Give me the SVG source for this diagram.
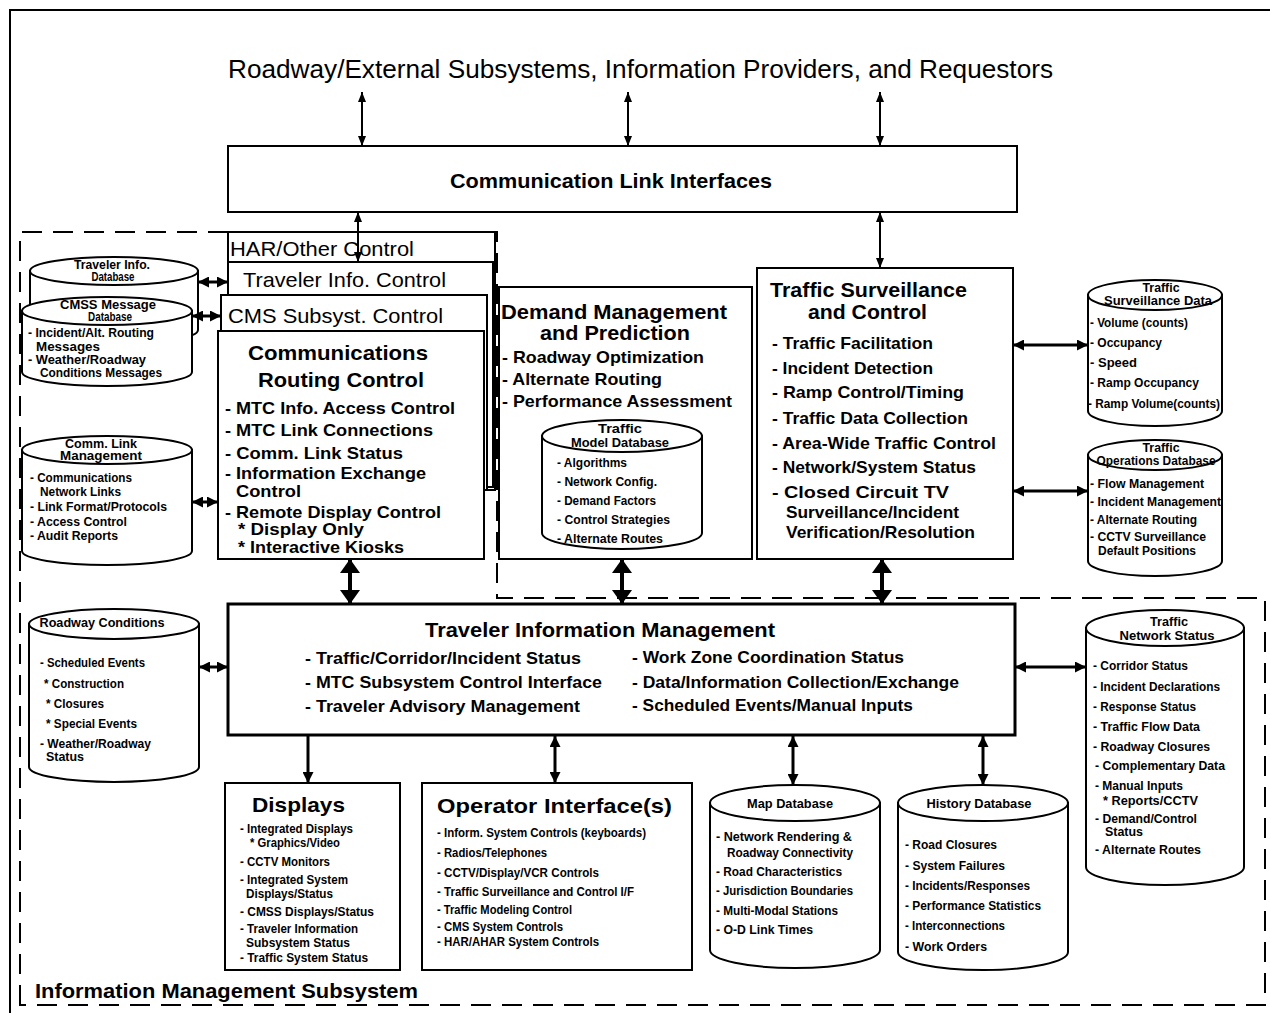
<svg xmlns="http://www.w3.org/2000/svg" width="1270" height="1013" viewBox="0 0 1270 1013">
  <defs>
    <style>
      text { font-family: "Liberation Sans", Arial, Helvetica, sans-serif; fill: #000; }
      .box { fill: #fff; stroke: #000; stroke-width: 2; }
      .tim { fill: #fff; stroke: #000; stroke-width: 3; }
      .cyl { fill: #fff; stroke: #000; stroke-width: 2; }
      .frame { fill: none; stroke: #000; stroke-width: 2; }
      .region { fill: none; stroke: #000; stroke-width: 2; stroke-dasharray: 20 11; }
      .big { font-size: 25px; }
      .hdr { font-size: 21px; font-weight: bold; }
      .plain { font-size: 21px; }
      .item { font-size: 17px; font-weight: bold; }
      .small { font-size: 12px; font-weight: bold; }
      .stitle { font-size: 12px; font-weight: bold; text-anchor: middle; }
      .thin { stroke: #000; stroke-width: 2; fill: none; marker-start: url(#hs); marker-end: url(#hs); }
      .side { stroke: #000; stroke-width: 3; fill: none; marker-start: url(#hm); marker-end: url(#hm); }
      .thick { stroke: #000; stroke-width: 4; fill: none; marker-start: url(#hl); marker-end: url(#hl); }
      .down { stroke: #000; stroke-width: 3; fill: none; marker-end: url(#hm); }
      .vdbl { stroke: #000; stroke-width: 3; fill: none; marker-start: url(#hm); marker-end: url(#hm); }
    </style>
    <marker id="hs" viewBox="0 0 10 8" refX="10" refY="4" markerWidth="10" markerHeight="8" markerUnits="userSpaceOnUse" orient="auto-start-reverse">
      <path d="M0,0 L10,4 L0,8 z" fill="#000"/>
    </marker>
    <marker id="hm" viewBox="0 0 11 11" refX="11" refY="5.5" markerWidth="11" markerHeight="11" markerUnits="userSpaceOnUse" orient="auto-start-reverse">
      <path d="M0,0 L11,5.5 L0,11 z" fill="#000"/>
    </marker>
    <marker id="hl" viewBox="0 0 14 20" refX="14" refY="10" markerWidth="14" markerHeight="20" markerUnits="userSpaceOnUse" orient="auto-start-reverse">
      <path d="M0,0 L14,10 L0,20 z" fill="#000"/>
    </marker>
  </defs>

  <rect width="1270" height="1013" fill="#fff"/>

  <!-- outer frame -->
  <path class="frame" d="M10,1013 V10 H1270"/>

  <!-- subsystem boundary -->
  <path class="region" d="M20,1005 V232 H497 V598 H1265 V1005 Z"/>
  <text x="35" y="998" class="hdr" font-size="20" textLength="383" lengthAdjust="spacingAndGlyphs">Information Management Subsystem</text>

  <!-- external providers -->
  <g id="external">
    <text x="228" y="78" class="big" textLength="825" lengthAdjust="spacingAndGlyphs">Roadway/External Subsystems, Information Providers, and Requestors</text>
  </g>

  <!-- communication link interfaces -->
  <g id="comm-link-interfaces">
    <rect class="box" x="228" y="146" width="789" height="66"/>
    <text x="450" y="188" class="hdr" font-size="20" textLength="322" lengthAdjust="spacingAndGlyphs">Communication Link Interfaces</text>
  </g>

  <!-- stacked control cards -->
  <g id="har-control">
    <rect class="box" x="228" y="232" width="267" height="258"/>
    <text x="230" y="256" class="plain" textLength="184" lengthAdjust="spacingAndGlyphs">HAR/Other Control</text>
  </g>
  <g id="traveler-info-control">
    <rect class="box" x="228" y="262" width="265" height="225"/>
    <text x="243" y="287" class="plain" textLength="203" lengthAdjust="spacingAndGlyphs">Traveler Info. Control</text>
  </g>
  <g id="cms-control">
    <rect class="box" x="221" y="295" width="266" height="195"/>
    <text x="228" y="323" class="plain" textLength="215" lengthAdjust="spacingAndGlyphs">CMS Subsyst. Control</text>
  </g>
  <g id="comm-routing-control">
    <rect class="box" x="218" y="331" width="266" height="228"/>
    <text x="248" y="360" class="hdr" textLength="180" lengthAdjust="spacingAndGlyphs">Communications</text>
    <text x="258" y="387" class="hdr" textLength="166" lengthAdjust="spacingAndGlyphs">Routing Control</text>
    <text x="225" y="414" class="item" textLength="230" lengthAdjust="spacingAndGlyphs">- MTC Info. Access Control</text>
    <text x="225" y="436" class="item" textLength="208" lengthAdjust="spacingAndGlyphs">- MTC Link Connections</text>
    <text x="225" y="459" class="item" textLength="178" lengthAdjust="spacingAndGlyphs">- Comm. Link Status</text>
    <text x="225" y="479" class="item" textLength="201" lengthAdjust="spacingAndGlyphs">- Information Exchange</text>
    <text x="236" y="497" class="item" textLength="65" lengthAdjust="spacingAndGlyphs">Control</text>
    <text x="225" y="518" class="item" textLength="216" lengthAdjust="spacingAndGlyphs">- Remote Display Control</text>
    <text x="238" y="535" class="item" textLength="126" lengthAdjust="spacingAndGlyphs">* Display Only</text>
    <text x="238" y="553" class="item" textLength="166" lengthAdjust="spacingAndGlyphs">* Interactive Kiosks</text>
  </g>

  <!-- demand management -->
  <g id="demand-management">
    <rect class="box" x="499" y="287" width="253" height="272"/>
    <text x="501" y="319" class="hdr" textLength="226" lengthAdjust="spacingAndGlyphs">Demand Management</text>
    <text x="540" y="340" class="hdr" textLength="150" lengthAdjust="spacingAndGlyphs">and Prediction</text>
    <text x="502" y="363" class="item" textLength="202" lengthAdjust="spacingAndGlyphs">- Roadway Optimization</text>
    <text x="502" y="385" class="item" textLength="160" lengthAdjust="spacingAndGlyphs">- Alternate Routing</text>
    <text x="502" y="407" class="item" textLength="230" lengthAdjust="spacingAndGlyphs">- Performance Assessment</text>
  </g>
  <g id="traffic-model-db">
    <path class="cyl" d="M542,436 V533 A80,16 0 0 0 702,533 V436 Z"/>
    <ellipse class="cyl" cx="622" cy="436" rx="80" ry="16"/>
    <text x="620" y="433" class="stitle" textLength="44" lengthAdjust="spacingAndGlyphs">Traffic</text>
    <text x="620" y="447" class="stitle" textLength="98" lengthAdjust="spacingAndGlyphs">Model Database</text>
    <text x="557" y="467" class="small" font-size="11.5" textLength="70" lengthAdjust="spacingAndGlyphs">- Algorithms</text>
    <text x="557" y="486" class="small" font-size="11.5" textLength="100" lengthAdjust="spacingAndGlyphs">- Network Config.</text>
    <text x="557" y="505" class="small" font-size="11.5" textLength="99" lengthAdjust="spacingAndGlyphs">- Demand Factors</text>
    <text x="557" y="524" class="small" font-size="11.5" textLength="113" lengthAdjust="spacingAndGlyphs">- Control Strategies</text>
    <text x="557" y="543" class="small" font-size="11.5" textLength="106" lengthAdjust="spacingAndGlyphs">- Alternate Routes</text>
  </g>

  <!-- traffic surveillance and control -->
  <g id="traffic-surveillance">
    <rect class="box" x="757" y="268" width="256" height="291"/>
    <text x="770" y="297" class="hdr" textLength="197" lengthAdjust="spacingAndGlyphs">Traffic Surveillance</text>
    <text x="808" y="319" class="hdr" textLength="119" lengthAdjust="spacingAndGlyphs">and Control</text>
    <text x="772" y="349" class="item" textLength="161" lengthAdjust="spacingAndGlyphs">- Traffic Facilitation</text>
    <text x="772" y="374" class="item" textLength="161" lengthAdjust="spacingAndGlyphs">- Incident Detection</text>
    <text x="772" y="398" class="item" textLength="192" lengthAdjust="spacingAndGlyphs">- Ramp Control/Timing</text>
    <text x="772" y="424" class="item" textLength="196" lengthAdjust="spacingAndGlyphs">- Traffic Data Collection</text>
    <text x="772" y="449" class="item" textLength="224" lengthAdjust="spacingAndGlyphs">- Area-Wide Traffic Control</text>
    <text x="772" y="473" class="item" textLength="204" lengthAdjust="spacingAndGlyphs">- Network/System Status</text>
    <text x="772" y="498" class="item" textLength="177" lengthAdjust="spacingAndGlyphs">- Closed Circuit TV</text>
    <text x="786" y="518" class="item" textLength="173" lengthAdjust="spacingAndGlyphs">Surveillance/Incident</text>
    <text x="786" y="538" class="item" textLength="189" lengthAdjust="spacingAndGlyphs">Verification/Resolution</text>
  </g>

  <!-- left databases -->
  <g id="traveler-info-db">
    <path class="cyl" d="M30,271 V330 A84,14 0 0 0 198,330 V271 Z"/>
    <ellipse class="cyl" cx="114" cy="271" rx="84" ry="14"/>
    <text x="112" y="269" class="stitle" textLength="76" lengthAdjust="spacingAndGlyphs">Traveler Info.</text>
    <text x="113" y="281" class="stitle" textLength="43" lengthAdjust="spacingAndGlyphs">Database</text>
  </g>
  <g id="cmss-message-db">
    <path class="cyl" d="M22,311 V372 A85,14 0 0 0 192,372 V311 Z"/>
    <ellipse class="cyl" cx="107" cy="311" rx="85" ry="14"/>
    <text x="108" y="309" class="stitle" textLength="96" lengthAdjust="spacingAndGlyphs">CMSS Message</text>
    <text x="110" y="321" class="stitle" textLength="44" lengthAdjust="spacingAndGlyphs">Database</text>
    <text x="28" y="337" class="small" textLength="126" lengthAdjust="spacingAndGlyphs">- Incident/Alt. Routing</text>
    <text x="36" y="351" class="small" textLength="64" lengthAdjust="spacingAndGlyphs">Messages</text>
    <text x="28" y="364" class="small" textLength="118" lengthAdjust="spacingAndGlyphs">- Weather/Roadway</text>
    <text x="40" y="377" class="small" textLength="122" lengthAdjust="spacingAndGlyphs">Conditions Messages</text>
  </g>
  <g id="comm-link-mgmt-db">
    <path class="cyl" d="M22,450 V551 A85,14 0 0 0 192,551 V450 Z"/>
    <ellipse class="cyl" cx="107" cy="450" rx="85" ry="14"/>
    <text x="101" y="448" class="stitle" textLength="72" lengthAdjust="spacingAndGlyphs">Comm. Link</text>
    <text x="101" y="460" class="stitle" textLength="82" lengthAdjust="spacingAndGlyphs">Management</text>
    <text x="30" y="482" class="small" textLength="102" lengthAdjust="spacingAndGlyphs">- Communications</text>
    <text x="40" y="496" class="small" textLength="81" lengthAdjust="spacingAndGlyphs">Network Links</text>
    <text x="30" y="511" class="small" textLength="137" lengthAdjust="spacingAndGlyphs">- Link Format/Protocols</text>
    <text x="30" y="526" class="small" textLength="97" lengthAdjust="spacingAndGlyphs">- Access Control</text>
    <text x="30" y="540" class="small" textLength="88" lengthAdjust="spacingAndGlyphs">- Audit Reports</text>
  </g>
  <g id="roadway-conditions-db">
    <path class="cyl" d="M29,624 V767 A85,15 0 0 0 199,767 V624 Z"/>
    <ellipse class="cyl" cx="114" cy="624" rx="85" ry="15"/>
    <text x="102" y="627" class="stitle" textLength="125" lengthAdjust="spacingAndGlyphs">Roadway Conditions</text>
    <text x="40" y="667" class="small" textLength="105" lengthAdjust="spacingAndGlyphs">- Scheduled Events</text>
    <text x="44" y="688" class="small" textLength="80" lengthAdjust="spacingAndGlyphs">* Construction</text>
    <text x="46" y="708" class="small" textLength="58" lengthAdjust="spacingAndGlyphs">* Closures</text>
    <text x="46" y="728" class="small" textLength="91" lengthAdjust="spacingAndGlyphs">* Special Events</text>
    <text x="40" y="748" class="small" textLength="111" lengthAdjust="spacingAndGlyphs">- Weather/Roadway</text>
    <text x="46" y="761" class="small" textLength="38" lengthAdjust="spacingAndGlyphs">Status</text>
  </g>

  <!-- right databases -->
  <g id="traffic-surveillance-db">
    <path class="cyl" d="M1088,295 V411 A67,15 0 0 0 1222,411 V295 Z"/>
    <ellipse class="cyl" cx="1155" cy="295" rx="67" ry="15"/>
    <text x="1161" y="292" class="stitle" textLength="37" lengthAdjust="spacingAndGlyphs">Traffic</text>
    <text x="1158" y="305" class="stitle" textLength="108" lengthAdjust="spacingAndGlyphs">Surveillance Data</text>
    <text x="1090" y="327" class="small" font-size="11.5" textLength="98" lengthAdjust="spacingAndGlyphs">- Volume (counts)</text>
    <text x="1090" y="347" class="small" font-size="11.5" textLength="72" lengthAdjust="spacingAndGlyphs">- Occupancy</text>
    <text x="1090" y="367" class="small" font-size="11.5" textLength="47" lengthAdjust="spacingAndGlyphs">- Speed</text>
    <text x="1090" y="387" class="small" font-size="11.5" textLength="109" lengthAdjust="spacingAndGlyphs">- Ramp Occupancy</text>
    <text x="1088" y="408" class="small" font-size="11.5" textLength="132" lengthAdjust="spacingAndGlyphs">- Ramp Volume(counts)</text>
  </g>
  <g id="traffic-operations-db">
    <path class="cyl" d="M1088,455 V561 A67,15 0 0 0 1222,561 V455 Z"/>
    <ellipse class="cyl" cx="1155" cy="455" rx="67" ry="15"/>
    <text x="1161" y="452" class="stitle" textLength="37" lengthAdjust="spacingAndGlyphs">Traffic</text>
    <text x="1156" y="465" class="stitle" textLength="119" lengthAdjust="spacingAndGlyphs">Operations Database</text>
    <text x="1090" y="488" class="small" font-size="11.5" textLength="114" lengthAdjust="spacingAndGlyphs">- Flow Management</text>
    <text x="1090" y="506" class="small" font-size="11.5" textLength="131" lengthAdjust="spacingAndGlyphs">- Incident Management</text>
    <text x="1090" y="524" class="small" font-size="11.5" textLength="107" lengthAdjust="spacingAndGlyphs">- Alternate Routing</text>
    <text x="1090" y="541" class="small" font-size="11.5" textLength="116" lengthAdjust="spacingAndGlyphs">- CCTV Surveillance</text>
    <text x="1098" y="555" class="small" font-size="11.5" textLength="98" lengthAdjust="spacingAndGlyphs">Default Positions</text>
  </g>
  <g id="traffic-network-status-db">
    <path class="cyl" d="M1086,628 V867 A79,18 0 0 0 1244,867 V628 Z"/>
    <ellipse class="cyl" cx="1165" cy="628" rx="79" ry="18"/>
    <text x="1169" y="626" class="stitle" textLength="38" lengthAdjust="spacingAndGlyphs">Traffic</text>
    <text x="1167" y="640" class="stitle" textLength="95" lengthAdjust="spacingAndGlyphs">Network Status</text>
    <text x="1093" y="670" class="small" font-size="11.5" textLength="95" lengthAdjust="spacingAndGlyphs">- Corridor Status</text>
    <text x="1093" y="691" class="small" font-size="11.5" textLength="127" lengthAdjust="spacingAndGlyphs">- Incident Declarations</text>
    <text x="1093" y="711" class="small" font-size="11.5" textLength="103" lengthAdjust="spacingAndGlyphs">- Response Status</text>
    <text x="1093" y="731" class="small" font-size="11.5" textLength="107" lengthAdjust="spacingAndGlyphs">- Traffic Flow Data</text>
    <text x="1093" y="751" class="small" font-size="11.5" textLength="117" lengthAdjust="spacingAndGlyphs">- Roadway Closures</text>
    <text x="1095" y="770" class="small" font-size="11.5" textLength="130" lengthAdjust="spacingAndGlyphs">- Complementary Data</text>
    <text x="1095" y="790" class="small" font-size="11.5" textLength="88" lengthAdjust="spacingAndGlyphs">- Manual Inputs</text>
    <text x="1103" y="805" class="small" font-size="11.5" textLength="95" lengthAdjust="spacingAndGlyphs">* Reports/CCTV</text>
    <text x="1095" y="823" class="small" font-size="11.5" textLength="102" lengthAdjust="spacingAndGlyphs">- Demand/Control</text>
    <text x="1105" y="836" class="small" font-size="11.5" textLength="38" lengthAdjust="spacingAndGlyphs">Status</text>
    <text x="1095" y="854" class="small" font-size="11.5" textLength="106" lengthAdjust="spacingAndGlyphs">- Alternate Routes</text>
  </g>

  <!-- traveler information management -->
  <g id="traveler-info-management">
    <rect class="tim" x="228" y="604" width="787" height="131"/>
    <text x="425" y="637" class="hdr" font-size="21" textLength="350" lengthAdjust="spacingAndGlyphs">Traveler Information Management</text>
    <text x="305" y="664" class="item" textLength="276" lengthAdjust="spacingAndGlyphs">- Traffic/Corridor/Incident Status</text>
    <text x="305" y="688" class="item" textLength="297" lengthAdjust="spacingAndGlyphs">- MTC Subsystem Control Interface</text>
    <text x="305" y="712" class="item" textLength="275" lengthAdjust="spacingAndGlyphs">- Traveler Advisory Management</text>
    <text x="632" y="663" class="item" textLength="272" lengthAdjust="spacingAndGlyphs">- Work Zone Coordination Status</text>
    <text x="632" y="688" class="item" textLength="327" lengthAdjust="spacingAndGlyphs">- Data/Information Collection/Exchange</text>
    <text x="632" y="711" class="item" textLength="281" lengthAdjust="spacingAndGlyphs">- Scheduled Events/Manual Inputs</text>
  </g>

  <!-- displays -->
  <g id="displays">
    <rect class="box" x="225" y="783" width="175" height="187"/>
    <text x="252" y="812" class="hdr" font-size="23" textLength="93" lengthAdjust="spacingAndGlyphs">Displays</text>
    <text x="240" y="833" class="small" textLength="113" lengthAdjust="spacingAndGlyphs">- Integrated Displays</text>
    <text x="250" y="847" class="small" textLength="90" lengthAdjust="spacingAndGlyphs">* Graphics/Video</text>
    <text x="240" y="866" class="small" textLength="90" lengthAdjust="spacingAndGlyphs">- CCTV Monitors</text>
    <text x="240" y="884" class="small" textLength="108" lengthAdjust="spacingAndGlyphs">- Integrated System</text>
    <text x="246" y="898" class="small" textLength="87" lengthAdjust="spacingAndGlyphs">Displays/Status</text>
    <text x="240" y="916" class="small" textLength="134" lengthAdjust="spacingAndGlyphs">- CMSS Displays/Status</text>
    <text x="240" y="933" class="small" textLength="118" lengthAdjust="spacingAndGlyphs">- Traveler Information</text>
    <text x="246" y="947" class="small" textLength="104" lengthAdjust="spacingAndGlyphs">Subsystem Status</text>
    <text x="240" y="962" class="small" textLength="128" lengthAdjust="spacingAndGlyphs">- Traffic System Status</text>
  </g>

  <!-- operator interfaces -->
  <g id="operator-interfaces">
    <rect class="box" x="422" y="783" width="270" height="187"/>
    <text x="437" y="813" class="hdr" font-size="23" textLength="235" lengthAdjust="spacingAndGlyphs">Operator Interface(s)</text>
    <text x="437" y="837" class="small" textLength="209" lengthAdjust="spacingAndGlyphs">- Inform. System Controls (keyboards)</text>
    <text x="437" y="857" class="small" textLength="110" lengthAdjust="spacingAndGlyphs">- Radios/Telephones</text>
    <text x="437" y="877" class="small" textLength="162" lengthAdjust="spacingAndGlyphs">- CCTV/Display/VCR Controls</text>
    <text x="437" y="896" class="small" textLength="197" lengthAdjust="spacingAndGlyphs">- Traffic Surveillance and Control I/F</text>
    <text x="437" y="914" class="small" textLength="135" lengthAdjust="spacingAndGlyphs">- Traffic Modeling Control</text>
    <text x="437" y="931" class="small" textLength="126" lengthAdjust="spacingAndGlyphs">- CMS System Controls</text>
    <text x="437" y="946" class="small" textLength="162" lengthAdjust="spacingAndGlyphs">- HAR/AHAR System Controls</text>
  </g>

  <!-- map and history databases -->
  <g id="map-db">
    <path class="cyl" d="M710,803 V950 A85,18 0 0 0 880,950 V803 Z"/>
    <ellipse class="cyl" cx="795" cy="803" rx="85" ry="18"/>
    <text x="790" y="808" class="stitle" textLength="86" lengthAdjust="spacingAndGlyphs">Map Database</text>
    <text x="716" y="841" class="small" textLength="136" lengthAdjust="spacingAndGlyphs">- Network Rendering &amp;</text>
    <text x="727" y="857" class="small" textLength="126" lengthAdjust="spacingAndGlyphs">Roadway Connectivity</text>
    <text x="716" y="876" class="small" textLength="126" lengthAdjust="spacingAndGlyphs">- Road Characteristics</text>
    <text x="716" y="895" class="small" textLength="137" lengthAdjust="spacingAndGlyphs">- Jurisdiction Boundaries</text>
    <text x="716" y="915" class="small" textLength="122" lengthAdjust="spacingAndGlyphs">- Multi-Modal Stations</text>
    <text x="716" y="934" class="small" textLength="97" lengthAdjust="spacingAndGlyphs">- O-D Link Times</text>
  </g>
  <g id="history-db">
    <path class="cyl" d="M898,803 V952 A85,18 0 0 0 1068,952 V803 Z"/>
    <ellipse class="cyl" cx="983" cy="803" rx="85" ry="18"/>
    <text x="979" y="808" class="stitle" textLength="105" lengthAdjust="spacingAndGlyphs">History Database</text>
    <text x="905" y="849" class="small" textLength="92" lengthAdjust="spacingAndGlyphs">- Road Closures</text>
    <text x="905" y="870" class="small" textLength="100" lengthAdjust="spacingAndGlyphs">- System Failures</text>
    <text x="905" y="890" class="small" textLength="125" lengthAdjust="spacingAndGlyphs">- Incidents/Responses</text>
    <text x="905" y="910" class="small" textLength="136" lengthAdjust="spacingAndGlyphs">- Performance Statistics</text>
    <text x="905" y="930" class="small" textLength="100" lengthAdjust="spacingAndGlyphs">- Interconnections</text>
    <text x="905" y="951" class="small" textLength="82" lengthAdjust="spacingAndGlyphs">- Work Orders</text>
  </g>

  <!-- connectors -->
  <g id="connectors">
    <line class="thin" x1="362" y1="92" x2="362" y2="146"/>
    <line class="thin" x1="628" y1="92" x2="628" y2="146"/>
    <line class="thin" x1="880" y1="92" x2="880" y2="146"/>
    <line class="thin" x1="358" y1="212" x2="358" y2="262"/>
    <line class="thin" x1="880" y1="212" x2="880" y2="268"/>
    <line class="side" x1="198" y1="282" x2="228" y2="282"/>
    <line class="side" x1="192" y1="316" x2="221" y2="316"/>
    <line class="side" x1="192" y1="502" x2="218" y2="502"/>
    <line class="side" x1="1013" y1="345" x2="1088" y2="345"/>
    <line class="side" x1="1013" y1="491" x2="1088" y2="491"/>
    <line class="thick" x1="350" y1="559" x2="350" y2="604"/>
    <line class="thick" x1="622" y1="559" x2="622" y2="604"/>
    <line class="thick" x1="882" y1="559" x2="882" y2="604"/>
    <line class="side" x1="199" y1="667" x2="228" y2="667"/>
    <line class="side" x1="1015" y1="667" x2="1086" y2="667"/>
    <line class="down" x1="308" y1="736" x2="308" y2="783"/>
    <line class="vdbl" x1="555" y1="736" x2="555" y2="783"/>
    <line class="vdbl" x1="793" y1="736" x2="793" y2="785"/>
    <line class="vdbl" x1="983" y1="736" x2="983" y2="785"/>
  </g>
</svg>
